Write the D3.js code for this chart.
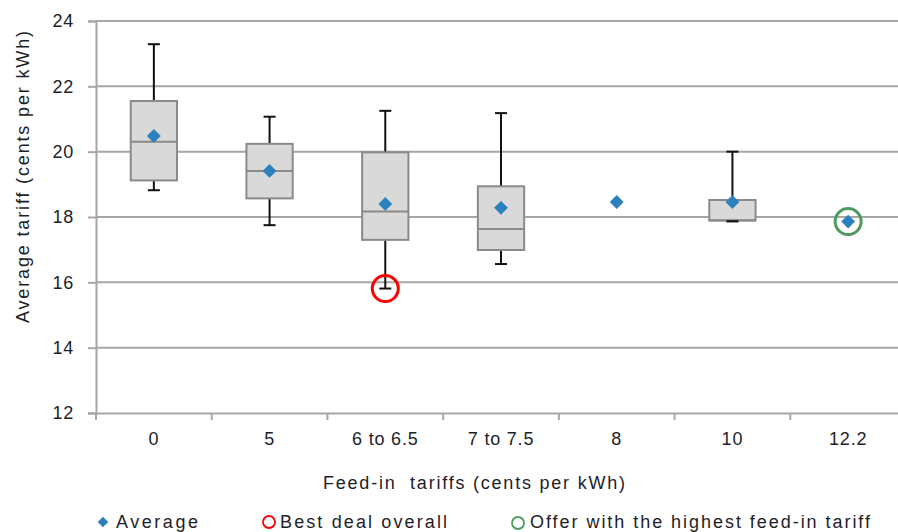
<!DOCTYPE html>
<html>
<head>
<meta charset="utf-8">
<script src="https://cdn.jsdelivr.net/npm/d3@7"></script>
<style>
  html, body { margin: 0; padding: 0; background: #fff; }
  svg { display: block; font-family: "Liberation Sans", Arial, sans-serif; }
</style>
</head>
<body>
<svg id="chart" width="898" height="532"></svg>
<script>
// ---- Data ----
const categories = ["0", "5", "6 to 6.5", "7 to 7.5", "8", "10", "12.2"];
const whiskerLow  = [18.82, 17.75, 15.81, 16.56, null, 17.87, null];
const q1          = [19.12, 18.57, 17.30, 16.99, null, 17.89, null];
const median      = [20.30, 19.41, 18.17, 17.63, null, 17.90, null];
const q3          = [21.55, 20.24, 19.98, 18.94, null, 18.52, null];
const whiskerHigh = [23.29, 21.07, 21.25, 21.18, null, 20.00, null];
const average     = [20.48, 19.41, 18.40, 18.28, 18.46, 18.46, 17.86];
const bestDeal    = [{ category: "6 to 6.5", value: 15.81 }];
const highestFit  = [{ category: "12.2", value: 17.86 }];
const yTicks = [12, 14, 16, 18, 20, 22, 24];
const yTitle = "Average tariff (cents per kWh)";
const xTitle = "Feed-in  tariffs (cents per kWh)";
const legendLabels = ["Average", "Best deal overall", "Offer with the highest feed-in tariff"];

// ---- Layout ----
const svg = d3.select("#chart");
const pL = 96, pR = 906, pT = 21, pB = 413;
const textColor = "#1e1e28";
const gridColor = "#a6a6a6";
const blue = "#2b80be";

const x = d3.scaleBand().domain(categories).range([pL, pR]).padding(0);
const y = d3.scaleLinear().domain([12, 24]).range([pB, pT]);

// Gridlines + y axis
const yAxis = d3.axisLeft(y).tickValues(yTicks).tickSize(8).tickPadding(14).tickFormat(d3.format("d"));
const gY = svg.append("g").attr("transform", `translate(${pL},0)`).call(yAxis);
gY.select(".domain").attr("stroke", gridColor).attr("stroke-width", 2);
gY.selectAll(".tick line").attr("stroke", gridColor).attr("stroke-width", 2);
gY.selectAll(".tick text").attr("fill", textColor).style("font-size", "18px").style("letter-spacing", "0.8px");

svg.append("g").selectAll("line").data(yTicks.filter(t => t > 12)).join("line")
  .attr("x1", pL).attr("x2", pR)
  .attr("y1", d => y(d)).attr("y2", d => y(d))
  .attr("stroke", gridColor).attr("stroke-width", 2);

// X axis
const gX = svg.append("g").attr("transform", `translate(0,${pB})`)
  .call(d3.axisBottom(x).tickSize(0).tickPadding(19));
gX.select(".domain").attr("stroke", gridColor).attr("stroke-width", 2);
gX.selectAll(".tick text").attr("fill", textColor).style("font-size", "18px").style("letter-spacing", "0.8px");
const bounds = categories.map(c => x(c)).concat([x(categories[categories.length - 1]) + x.bandwidth()]);
svg.append("g").selectAll("line").data(bounds).join("line")
  .attr("x1", d => d).attr("x2", d => d)
  .attr("y1", pB).attr("y2", pB + 7)
  .attr("stroke", gridColor).attr("stroke-width", 2);

// ---- Box plots ----
const boxData = categories.map((c, i) => ({
  c, lo: whiskerLow[i], q1: q1[i], med: median[i], q3: q3[i], hi: whiskerHigh[i]
})).filter(d => d.q1 != null);

const bw = x.bandwidth() * 0.4;
const cx = c => x(c) + x.bandwidth() / 2;
const gB = svg.append("g");
gB.selectAll("line.wh").data(boxData).join("line").attr("class", "wh")
  .attr("x1", d => cx(d.c)).attr("x2", d => cx(d.c))
  .attr("y1", d => y(d.hi)).attr("y2", d => y(d.lo))
  .attr("stroke", "#111").attr("stroke-width", 2);
["hi", "lo"].forEach(k => {
  gB.selectAll("line.cap" + k).data(boxData).join("line").attr("class", "cap" + k)
    .attr("x1", d => cx(d.c) - 6).attr("x2", d => cx(d.c) + 6)
    .attr("y1", d => y(d[k])).attr("y2", d => y(d[k]))
    .attr("stroke", "#111").attr("stroke-width", 2);
});
gB.selectAll("rect").data(boxData).join("rect")
  .attr("x", d => cx(d.c) - bw / 2).attr("width", bw)
  .attr("y", d => y(d.q3)).attr("height", d => y(d.q1) - y(d.q3))
  .attr("fill", "#d9d9d9").attr("stroke", "#8a8a8a").attr("stroke-width", 2);
gB.selectAll("line.med").data(boxData).join("line").attr("class", "med")
  .attr("x1", d => cx(d.c) - bw / 2).attr("x2", d => cx(d.c) + bw / 2)
  .attr("y1", d => y(d.med)).attr("y2", d => y(d.med))
  .attr("stroke", "#8a8a8a").attr("stroke-width", 2);
gB.selectAll("line.cap2").data(boxData.filter(d => y(d.lo) - y(d.q1) < 4)).join("line").attr("class", "cap2")
  .attr("x1", d => cx(d.c) - 6).attr("x2", d => cx(d.c) + 6)
  .attr("y1", d => y(d.lo)).attr("y2", d => y(d.lo))
  .attr("stroke", "#111").attr("stroke-width", 2);

// Average diamonds
const diamond = d3.symbol().type(d3.symbolSquare).size(96);
svg.append("g").selectAll("path").data(categories.map((c, i) => ({ c, v: average[i] }))).join("path")
  .attr("d", diamond)
  .attr("transform", d => `translate(${cx(d.c)},${y(d.v)}) rotate(45)`)
  .attr("fill", blue);

// Highlight circles
svg.append("g").selectAll("circle").data(bestDeal).join("circle")
  .attr("cx", d => cx(d.category)).attr("cy", d => y(d.value)).attr("r", 13)
  .attr("fill", "none").attr("stroke", "#ff0000").attr("stroke-width", 3);
svg.append("g").selectAll("circle").data(highestFit).join("circle")
  .attr("cx", d => cx(d.category)).attr("cy", d => y(d.value)).attr("r", 13)
  .attr("fill", "none").attr("stroke", "#4e9a5e").attr("stroke-width", 3);

// Axis titles
svg.append("text")
  .attr("transform", `translate(29,${(pT + pB) / 2 - 40}) rotate(-90)`)
  .attr("text-anchor", "middle").attr("fill", textColor)
  .style("font-size", "18px").attr("textLength", 292).attr("lengthAdjust", "spacing")
  .text(yTitle);
svg.append("text")
  .attr("x", 474).attr("y", 489).attr("text-anchor", "middle").attr("fill", textColor)
  .style("font-size", "18px").attr("textLength", 302).attr("lengthAdjust", "spacing")
  .style("white-space", "pre")
  .text(xTitle);

// Legend
const lg = svg.append("g");
lg.append("path").attr("d", d3.symbol().type(d3.symbolSquare).size(56))
  .attr("transform", "translate(103,522) rotate(45)").attr("fill", blue);
lg.append("circle").attr("cx", 269).attr("cy", 522).attr("r", 6)
  .attr("fill", "none").attr("stroke", "#ff0000").attr("stroke-width", 1.8);
lg.append("circle").attr("cx", 518).attr("cy", 523).attr("r", 6)
  .attr("fill", "none").attr("stroke", "#4e9a5e").attr("stroke-width", 1.8);
const legendPos = [[116, 82], [280, 167], [530, 340]];
lg.selectAll("text").data(legendLabels).join("text")
  .attr("x", (d, i) => legendPos[i][0]).attr("y", 528)
  .attr("textLength", (d, i) => legendPos[i][1]).attr("lengthAdjust", "spacing")
  .attr("fill", textColor).style("font-size", "18px")
  .text(d => d);
</script>
</body>
</html>
